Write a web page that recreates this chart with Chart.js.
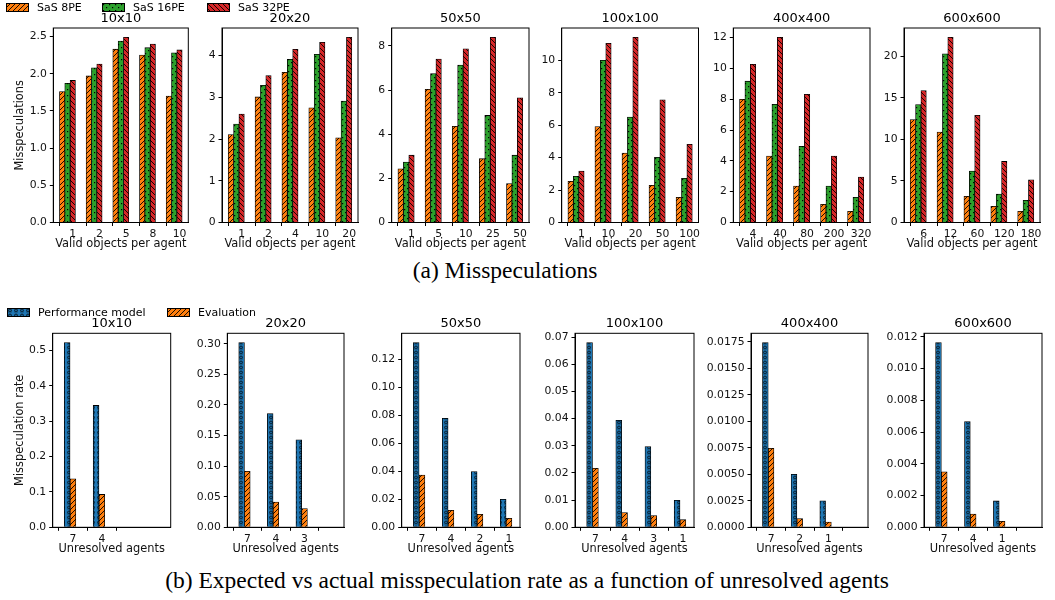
<!DOCTYPE html>
<html>
<head>
<meta charset="utf-8">
<script src="https://cdn.jsdelivr.net/npm/chart.js@4.4.1/dist/chart.umd.min.js"></script>
<style>
  body { margin: 0; width: 1055px; height: 600px; background: #fff; position: relative; overflow: hidden; font-family: 'DejaVu Sans', sans-serif; }
  canvas { position: absolute; }
  .leg { position: absolute; font-size: 11px; line-height: 12px; color: #000; white-space: nowrap; }
  .cap { position: absolute; font-family: 'Liberation Serif', serif; font-size: 23.5px; line-height: 26px; color: #000; white-space: nowrap; transform: translateX(-50%); }
</style>
</head>
<body>
<div class="cap" style="left:505px;top:257px">(a) Misspeculations</div>
<div class="cap" style="left:527px;top:567px">(b) Expected vs actual misspeculation rate as a function of unresolved agents</div>
<script>
// ---------------- datos fila superior: misspeculations ----------------
const gridSizes = ['10x10', '20x20', '50x50', '100x100', '400x400', '600x600']
const seriesTop = ['SaS 8PE', 'SaS 16PE', 'SaS 32PE']
const validObjects = [
  ['1', '2', '5', '8', '10'],
  ['1', '2', '4', '10', '20'],
  ['1', '5', '10', '25', '50'],
  ['1', '10', '20', '50', '100'],
  ['4', '40', '80', '200', '320'],
  ['6', '12', '60', '120', '180']
]
const sas8 = [
  [1.76, 1.97, 2.33, 2.25, 1.70],
  [2.11, 3.01, 3.60, 2.75, 2.03],
  [2.43, 6.03, 4.36, 2.89, 1.76],
  [2.54, 5.92, 4.28, 2.29, 1.55],
  [8.00, 4.31, 2.37, 1.18, 0.73],
  [12.4, 10.9, 3.15, 1.95, 1.35]
]
const sas16 = [
  [1.87, 2.08, 2.44, 2.35, 2.28],
  [2.36, 3.29, 3.91, 4.03, 2.91],
  [2.74, 6.75, 7.13, 4.85, 3.05],
  [2.85, 10.0, 6.50, 4.02, 2.72],
  [9.17, 7.67, 4.95, 2.36, 1.64],
  [14.2, 20.3, 6.20, 3.42, 2.66]
]
const sas32 = [
  [1.91, 2.13, 2.49, 2.40, 2.32],
  [2.60, 3.52, 4.15, 4.32, 4.44],
  [3.05, 7.40, 7.87, 8.39, 5.65],
  [3.17, 11.05, 11.42, 7.57, 4.82],
  [10.27, 12.02, 8.32, 4.31, 2.95],
  [15.88, 22.3, 12.9, 7.35, 5.15]
]
const topYTicks = [
  [0, 0.5, 1, 1.5, 2, 2.5],
  [0, 1, 2, 3, 4],
  [0, 2, 4, 6, 8],
  [0, 2, 4, 6, 8, 10],
  [0, 2, 4, 6, 8, 10, 12],
  [0, 5, 10, 15, 20]
]
const topDecimals = [1, 0, 0, 0, 0, 0]

// ---------------- datos fila inferior: misspeculation rate ----------------
const seriesBot = ['Performance model', 'Evaluation']
const unresolvedAgents = [
  ['7', '4'],
  ['7', '4', '3'],
  ['7', '4', '2', '1'],
  ['7', '4', '3', '1'],
  ['7', '2', '1'],
  ['7', '4', '1']
]
const perfModel = [
  [0.523, 0.345],
  [0.302, 0.186, 0.143],
  [0.1318, 0.0777, 0.0397, 0.0200],
  [0.0680, 0.0394, 0.0297, 0.0099],
  [0.01744, 0.0050, 0.0025],
  [0.01164, 0.00666, 0.00166]
]
const evaluation = [
  [0.137, 0.093],
  [0.0915, 0.0414, 0.0305],
  [0.0373, 0.0121, 0.0093, 0.0064],
  [0.0217, 0.0054, 0.0043, 0.0028],
  [0.00746, 0.00082, 0.0005],
  [0.00349, 0.00084, 0.00038]
]
const botYTicks = [
  [0, 0.1, 0.2, 0.3, 0.4, 0.5],
  [0, 0.05, 0.10, 0.15, 0.20, 0.25, 0.30],
  [0, 0.02, 0.04, 0.06, 0.08, 0.10, 0.12],
  [0, 0.01, 0.02, 0.03, 0.04, 0.05, 0.06, 0.07],
  [0, 0.0025, 0.005, 0.0075, 0.01, 0.0125, 0.015, 0.0175],
  [0, 0.002, 0.004, 0.006, 0.008, 0.010, 0.012]
]
const botDecimals = [1, 2, 2, 2, 4, 3]

// ---------------- layout ----------------
const FONT = 'DejaVu Sans'
const topBox = { t: 28, b: 222.5, l: [53.3, 222, 391.7, 561.7, 733.3, 904], r: [188.3, 358, 529, 698.5, 870, 1040], xh: 28.5 }
const botBox = { t: 333.3, b: 527.3, l: [52.7, 227.3, 401.7, 575, 751, 924], r: [170.7, 344, 520, 694, 868, 1042], xh: 28.2 }

// patrones tipo hatch de matplotlib
function hatch(color, kind) {
  const w = kind === 'star' ? 6 : (kind === 'dot' ? 6 : 5)
  const h = kind === 'star' ? 5 : (kind === 'dot' ? 6 : 5)
  const p = document.createElement('canvas')
  p.width = w; p.height = h
  const g = p.getContext('2d')
  g.fillStyle = color
  g.fillRect(0, 0, w, h)
  g.strokeStyle = '#000'
  g.fillStyle = '#000'
  g.lineWidth = 0.9
  if (kind === 'fwd') {
    g.beginPath()
    g.moveTo(-1, h + 1); g.lineTo(w + 1, -1)
    g.moveTo(-1, 1); g.lineTo(1, -1)
    g.moveTo(w - 1, h + 1); g.lineTo(w + 1, h - 1)
    g.stroke()
  } else if (kind === 'back') {
    g.beginPath()
    g.moveTo(-1, -1); g.lineTo(w + 1, h + 1)
    g.moveTo(w - 1, -1); g.lineTo(w + 1, 1)
    g.moveTo(-1, h - 1); g.lineTo(1, h + 1)
    g.stroke()
  } else if (kind === 'dot') {
    g.fillRect(1, 1, 1.2, 1.2)
    g.fillRect(4, 4, 1.2, 1.2)
  } else if (kind === 'star') {
    g.lineWidth = 0.6
    g.beginPath()
    for (let k = 0; k < 10; k++) {
      const a = -Math.PI / 2 + k * Math.PI / 5
      const rr = k % 2 === 0 ? 2 : 0.9
      const px = 3 + rr * Math.cos(a), py = 2.6 + rr * Math.sin(a)
      if (k === 0) g.moveTo(px, py); else g.lineTo(px, py)
    }
    g.closePath()
    g.stroke()
  }
  return g.createPattern(p, 'repeat')
}

const pOrange = hatch('#ff7f0e', 'fwd')
const pGreen = hatch('#2ca02c', 'dot')
const pRed = hatch('#d62728', 'back')
const pBlue = hatch('#1f77b4', 'star')

const frame = {
  id: 'frame',
  afterDraw(chart) {
    const { ctx, chartArea: a } = chart
    ctx.save()
    ctx.strokeStyle = '#000'
    ctx.lineWidth = 1
    ctx.strokeRect(a.left, a.top, a.right - a.left, a.bottom - a.top)
    ctx.restore()
  }
}

function barSet(label, values, offset, pattern) {
  return {
    label: label,
    data: values.map((v, k) => ({ x: k + offset, y: v })),
    backgroundColor: pattern,
    borderColor: '#000',
    borderWidth: 0.8,
    grouped: false,
    categoryPercentage: 1,
    barPercentage: 1
  }
}

function panel(box, i, datasets, cats, xRange, yTicks, dec, title, xTitle, yTitle) {
  const l = box.l[i], r = box.r[i]
  const left = i === 0 ? 0 : Math.round(l - 55)
  const yw = l - left
  const top = Math.round(box.t - 18)
  const th = box.t - top
  const pb = 2
  const pt = th - 13 * 1.2 - pb
  const W = Math.ceil(r - left + 3)
  const H = Math.round(box.b + box.xh - top)
  const xh = H - th - (box.b - box.t)

  const c = document.createElement('canvas')
  c.width = W; c.height = H
  c.style.left = left + 'px'
  c.style.top = top + 'px'
  c.style.width = W + 'px'
  c.style.height = H + 'px'
  document.body.appendChild(c)

  let ymax = 0
  datasets.forEach(d => d.data.forEach(p => { ymax = Math.max(ymax, p.y) }))
  ymax *= 1.05

  new Chart(c, {
    type: 'bar',
    data: { datasets: datasets },
    options: {
      responsive: false,
      animation: false,
      devicePixelRatio: 1,
      layout: { padding: { left: 0, top: 0, bottom: 0, right: W - (r - left) } },
      plugins: {
        legend: { display: false },
        tooltip: { enabled: false },
        title: {
          display: true, text: title, fullSize: false, color: '#000',
          font: { family: FONT, size: 13, weight: 'normal', lineHeight: 1.2 },
          padding: { top: pt, bottom: pb }
        }
      },
      scales: {
        x: {
          type: 'linear', min: xRange[0], max: xRange[1], bounds: 'data', offset: false,
          afterBuildTicks: s => { s.ticks = cats.map((_, k) => ({ value: k })) },
          afterFit: s => { s.height = xh; s.paddingLeft = 0; s.paddingRight = 0 },
          ticks: { callback: v => cats[v], maxRotation: 0, autoSkip: false, color: '#111', font: { family: FONT, size: 10.8 }, padding: 2 },
          grid: { display: true, drawOnChartArea: false, drawTicks: true, tickLength: 3.5, color: '#000' },
          border: { display: true, color: '#000', width: 1 },
          title: { display: true, text: xTitle, color: '#111', font: { family: FONT, size: 11.4, lineHeight: 1.2 }, padding: { top: 0, bottom: 0 } }
        },
        y: {
          min: 0, max: ymax,
          afterBuildTicks: s => { s.ticks = yTicks.map(v => ({ value: v })) },
          afterFit: s => { s.width = yw; s.paddingTop = 0; s.paddingBottom = 0 },
          ticks: { callback: v => Number(v).toFixed(dec), color: '#111', font: { family: FONT, size: 10.8 }, padding: 3 },
          grid: { display: true, drawOnChartArea: false, drawTicks: true, tickLength: 3.5, color: '#000' },
          border: { display: true, color: '#000', width: 1 },
          title: { display: !!yTitle, text: yTitle || '', color: '#111', font: { family: FONT, size: 11.4, lineHeight: 1.2 }, padding: { top: 13, bottom: 0 } }
        }
      }
    },
    plugins: [frame]
  })
}

// fila superior
gridSizes.forEach((g, i) => {
  const ds = [
    barSet(seriesTop[0], sas8[i], -0.4, pOrange),
    barSet(seriesTop[1], sas16[i], -0.2, pGreen),
    barSet(seriesTop[2], sas32[i], 0, pRed)
  ]
  panel(topBox, i, ds, validObjects[i], [-0.73, 4.33], topYTicks[i], topDecimals[i], g,
    'Valid objects per agent', i === 0 ? 'Misspeculations' : null)
})

// fila inferior
gridSizes.forEach((g, i) => {
  const ds = [
    barSet(seriesBot[0], perfModel[i], -0.2, pBlue),
    barSet(seriesBot[1], evaluation[i], 0, pOrange)
  ]
  panel(botBox, i, ds, unresolvedAgents[i], [-0.7, 3.38], botYTicks[i], botDecimals[i], g,
    'Unresolved agents', i === 0 ? 'Misspeculation rate' : null)
})

// leyendas (html)
function legend(labels, patterns, xs, y) {
  labels.forEach((lab, k) => {
    const sw = document.createElement('canvas')
    sw.width = 23; sw.height = 9
    const g = sw.getContext('2d')
    g.fillStyle = patterns[k]
    g.fillRect(0, 0, 23, 9)
    g.strokeStyle = '#000'
    g.lineWidth = 1
    g.strokeRect(0.5, 0.5, 22, 8)
    sw.style.left = xs[k] + 'px'
    sw.style.top = y + 'px'
    document.body.appendChild(sw)
    const t = document.createElement('div')
    t.className = 'leg'
    t.textContent = lab
    t.style.left = (xs[k] + 31) + 'px'
    t.style.top = (y + 4.5 - 6) + 'px'
    document.body.appendChild(t)
  })
}
legend(seriesTop, [pOrange, pGreen, pRed], [6, 102, 207], 3)
legend(seriesBot, [pBlue, pOrange], [7, 167], 308)
</script>
</body>
</html>
